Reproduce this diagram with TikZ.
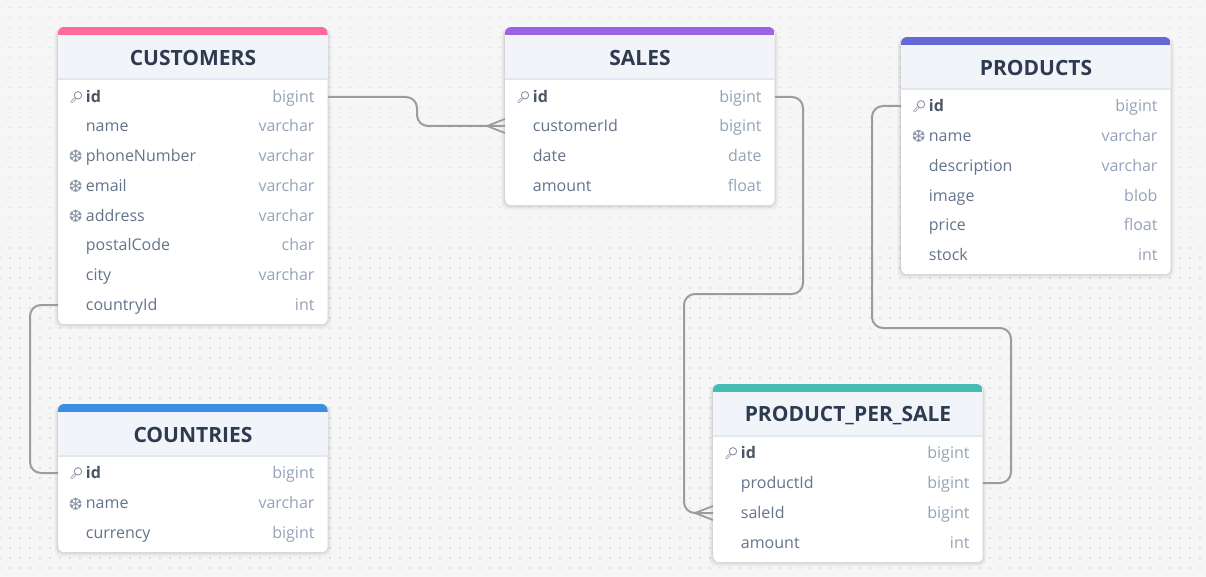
\documentclass[tikz,border=0pt]{standalone}
\usepackage{fontspec}
\setmainfont{Open Sans}
\newfontfamily\symfont{DejaVu Sans}
\definecolor{bgc}{HTML}{F6F6F6}
\definecolor{dotc}{HTML}{E0E0E0}
\definecolor{hdrc}{HTML}{F1F4F9}
\definecolor{hdrl}{HTML}{E3E8F0}
\definecolor{titlec}{HTML}{2D3A4F}
\definecolor{fieldc}{HTML}{64748B}
\definecolor{idc}{HTML}{4A5568}
\definecolor{typec}{HTML}{94A3B8}
\definecolor{linec}{HTML}{9C9C9C}
\definecolor{iconc}{HTML}{8A94A6}
\definecolor{pinkc}{HTML}{FF6B9A}
\definecolor{purplec}{HTML}{9B63E6}
\definecolor{indigoc}{HTML}{6569D6}
\definecolor{bluec}{HTML}{3A8FE4}
\definecolor{tealc}{HTML}{45BDB0}
\tikzset{
  x=1pt,y=-1pt,
  tablecard/.style={fill=white,rounded corners=6pt,inner sep=0pt,anchor=north west,minimum width=269.5pt},
  titletext/.style={font=\fontsize{21}{24}\selectfont\bfseries,text=titlec,inner sep=0pt},
  rowbox/.style={minimum width=269.5pt,minimum height=28pt,inner sep=0pt,anchor=west},
  fieldtext/.style={font=\fontsize{16}{20}\selectfont,text=fieldc,inner sep=0pt,anchor=base west},
  idtext/.style={font=\fontsize{16}{20}\selectfont\bfseries,text=idc,inner sep=0pt,anchor=base west},
  typetext/.style={font=\fontsize{16}{20}\selectfont,text=typec,inner sep=0pt,anchor=base east},
  conn/.style={draw=linec,line width=2pt,rounded corners=11pt},
  crow/.style={draw=linec,line width=1.8pt},
  flake/.style={font=\symfont\fontsize{17}{17}\selectfont,text=iconc,inner sep=0pt},
}
% name, x, top, bottom, colour, title
\newcommand\dbtable[6]{%
  \foreach \s/\o in {6/.012,5/.016,4/.02,3/.025,2/.03,1/.035}
    \fill[black,opacity=\o,rounded corners=7pt] (#2-\s*0.7,#3+1) rectangle (#2+269.5+\s*0.7,#4+\s*0.9);
  \node[tablecard,minimum height=#4pt-#3pt] (#1) at (#2,#3) {};
  \begin{scope}
    \clip[rounded corners=6pt] (#2,#3) rectangle (#2+269.5,#4);
    \fill[#5] (#2,#3) rectangle (#2+269.5,#3+8);
    \fill[hdrc] (#2,#3+8) rectangle (#2+269.5,#3+52);
    \fill[hdrl] (#2,#3+51) rectangle (#2+269.5,#3+53);
  \end{scope}
  \node[titletext] (#1-title) at (#2+135,#3+31.3) {#6};
}
% node name, table x, y, label, type, icon kind (n,k,s)
\newcommand\dbrow[6]{%
  \node[rowbox] (#1) at (#2,#3) {};
  \if#6k
    \node[idtext] (#1-f) at (#2+27.7,#3+5.5) {#4};
    \draw[iconc,line width=2.4pt,line cap=round] (#2+17,#3+1.5) -- (#2+13.5,#3+5);
    \draw[white,line width=.8pt,line cap=round] (#2+17,#3+1.5) -- (#2+13.5,#3+5);
    \draw[iconc,line width=.9pt,fill=white] (#2+20,#3-1.7) circle[radius=3.7];
  \else
    \node[fieldtext] (#1-f) at (#2+27.7,#3+5.5) {#4};
  \fi
  \if#6s
    \node[flake] (#1-i) at (#2+17.7,#3+0.8) {\char"2746};
  \fi
  \node[typetext] (#1-t) at (#2+256.7,#3+5.5) {#5};
}
\begin{document}
\begin{tikzpicture}
\useasboundingbox (0,0) rectangle (1206,577);
\fill[bgc] (0,0) rectangle (1206,577);
\foreach \i in {0,...,120}
  \foreach \j in {0,...,57}
    \fill[dotc] (\i*10-.7,7.8+\j*10-.7) rectangle ++(1.4,1.4);

\dbtable{customers}{58}{27}{324}{pinkc}{CUSTOMERS}
\dbrow{cid}{58}{97}{id}{bigint}{k}
\dbrow{cname}{58}{126}{name}{varchar}{n}
\dbrow{cphone}{58}{156}{phoneNumber}{varchar}{s}
\dbrow{cemail}{58}{186}{email}{varchar}{s}
\dbrow{caddr}{58}{216}{address}{varchar}{s}
\dbrow{cpost}{58}{245}{postalCode}{char}{n}
\dbrow{ccity}{58}{275}{city}{varchar}{n}
\dbrow{ccountry}{58}{305}{countryId}{int}{n}

\dbtable{sales}{505}{27}{205}{purplec}{SALES}
\dbrow{sid}{505}{97}{id}{bigint}{k}
\dbrow{scust}{505}{126}{customerId}{bigint}{n}
\dbrow{sdate}{505}{156}{date}{date}{n}
\dbrow{samount}{505}{186}{amount}{float}{n}

\dbtable{products}{901}{37}{274}{indigoc}{PRODUCTS}
\dbrow{pid}{901}{106}{id}{bigint}{k}
\dbrow{pname}{901}{136}{name}{varchar}{s}
\dbrow{pdesc}{901}{166}{description}{varchar}{n}
\dbrow{pimage}{901}{196}{image}{blob}{n}
\dbrow{pprice}{901}{225}{price}{float}{n}
\dbrow{pstock}{901}{255}{stock}{int}{n}

\dbtable{countries}{58}{404}{552}{bluec}{COUNTRIES}
\dbrow{kid}{58}{473}{id}{bigint}{k}
\dbrow{kname}{58}{503}{name}{varchar}{s}
\dbrow{kcur}{58}{533}{currency}{bigint}{n}

\dbtable{pps}{713}{384}{562}{tealc}{PRODUCT\_PER\_SALE}
\dbrow{ppid}{713}{453}{id}{bigint}{k}
\dbrow{ppprod}{713}{483}{productId}{bigint}{n}
\dbrow{ppsale}{713}{513}{saleId}{bigint}{n}
\dbrow{ppamount}{713}{543}{amount}{int}{n}

\coordinate (m1) at (417,97);
\coordinate (m2a) at (803,294);
\coordinate (m2b) at (684,294);
\coordinate (m3a) at (872,328);
\coordinate (m3b) at (1011,328);
\coordinate (m4) at (30,305);

\draw[conn] (cid.east) -- (cid.east -| m1) -- (scust.west -| m1) -- (scust.west);
\draw[conn] (sid.east) -- (sid.east -| m2a) -- (m2a) -- (m2b) -- (ppsale.west -| m2b) -- (ppsale.west);
\draw[conn] (pid.west) -- (pid.west -| m3a) -- (m3a) -- (m3b) -- (ppprod.east -| m3b) -- (ppprod.east);
\draw[conn] (ccountry.west) -- (ccountry.west -| m4) -- (kid.west -| m4) -- (kid.west);

\draw[crow] ([shift={(-18,0)}]scust.west) -- ([shift={(0,-7)}]scust.west);
\draw[crow] ([shift={(-18,0)}]scust.west) -- ([shift={(0,7)}]scust.west);
\draw[crow] ([shift={(-18,0)}]ppsale.west) -- ([shift={(0,-7)}]ppsale.west);
\draw[crow] ([shift={(-18,0)}]ppsale.west) -- ([shift={(0,7)}]ppsale.west);
\end{tikzpicture}
\end{document}
